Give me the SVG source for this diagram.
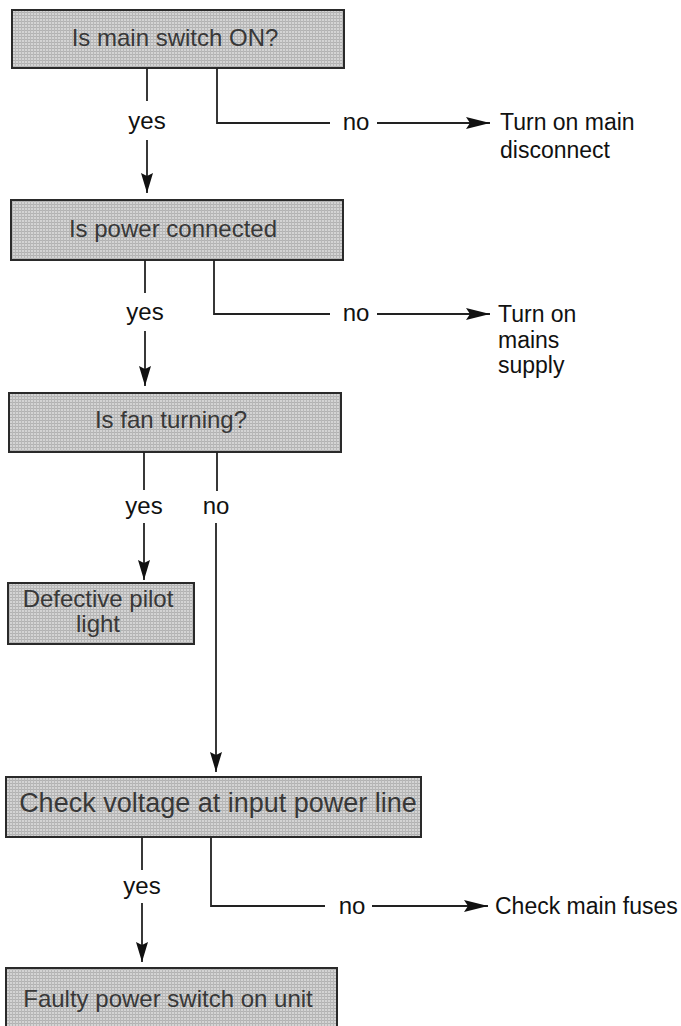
<svg xmlns="http://www.w3.org/2000/svg" width="681" height="1026" viewBox="0 0 681 1026">
<defs>
<pattern id="screen" width="3" height="3" patternUnits="userSpaceOnUse">
<rect width="3" height="3" fill="#d4d4d4"/>
<rect width="3" height="1" fill="#b2b2b2"/>
<rect width="1" height="3" fill="#b8b8b8"/>
</pattern>
<marker id="ah" viewBox="0 0 20 12" refX="20" refY="6" markerWidth="20" markerHeight="12" markerUnits="userSpaceOnUse" orient="auto">
<path d="M0,0 L20,6 L0,12 L3,6 z" fill="#111"/>
</marker>
<marker id="ahh" viewBox="0 0 24 12" refX="24" refY="6" markerWidth="24" markerHeight="12" markerUnits="userSpaceOnUse" orient="auto">
<path d="M0,0 L24,6 L0,12 L4,6 z" fill="#111"/>
</marker>
</defs>
<style>
.box{fill:url(#screen);stroke:#2a2a2a;stroke-width:2}
.bt{font-family:"Liberation Sans",Arial,sans-serif;font-size:24px;fill:#383838;text-anchor:middle}
.lb{font-family:"Liberation Sans",Arial,sans-serif;font-size:24px;fill:#111}
.rt{font-family:"Liberation Sans",Arial,sans-serif;font-size:23px;fill:#111}
.ln{fill:none;stroke:#222;stroke-width:1.8}
</style>

<g id="n1">
<rect class="box" x="12" y="10" width="332" height="58"/>
<text class="bt" x="175" y="46">Is main switch ON?</text>
</g>
<g id="n1no">
<text class="rt" x="500" y="130">Turn on main</text>
<text class="rt" x="500" y="158">disconnect</text>
</g>
<g id="n2">
<rect class="box" x="11" y="200" width="332" height="60"/>
<text class="bt" x="173" y="237">Is power connected</text>
</g>
<g id="n2no">
<text class="rt" x="498" y="322">Turn on</text>
<text class="rt" x="498" y="348">mains</text>
<text class="rt" x="498" y="373">supply</text>
</g>
<g id="n3">
<rect class="box" x="9" y="393" width="332" height="59"/>
<text class="bt" x="171" y="428">Is fan turning?</text>
</g>
<g id="n4">
<rect class="box" x="8" y="583" width="186" height="61"/>
<text class="bt" x="98" y="607">Defective pilot</text>
<text class="bt" x="98" y="632">light</text>
</g>
<g id="n5">
<rect class="box" x="6" y="777" width="415" height="60"/>
<text class="bt" x="218" y="812" style="font-size:27px">Check voltage at input power line</text>
</g>
<g id="n5no">
<text class="rt" x="495" y="914">Check main fuses</text>
</g>
<g id="n6">
<rect class="box" x="6" y="968" width="331" height="62"/>
<text class="bt" x="168" y="1007">Faulty power switch on unit</text>
</g>

<g id="connectors">
<path class="ln" d="M147,68 V101"/>
<text class="lb" x="147" y="129" text-anchor="middle">yes</text>
<path class="ln" d="M147,140 V193" marker-end="url(#ah)"/>
<path class="ln" d="M217,68 V123 H330"/>
<text class="lb" x="356" y="130" text-anchor="middle">no</text>
<path class="ln" d="M377,123 H490" marker-end="url(#ahh)"/>

<path class="ln" d="M145,260 V293"/>
<text class="lb" x="145" y="320" text-anchor="middle">yes</text>
<path class="ln" d="M145,331 V386" marker-end="url(#ah)"/>
<path class="ln" d="M214,260 V314 H330"/>
<text class="lb" x="356" y="321" text-anchor="middle">no</text>
<path class="ln" d="M377,314 H490" marker-end="url(#ahh)"/>

<path class="ln" d="M144,452 V490"/>
<text class="lb" x="144" y="514" text-anchor="middle">yes</text>
<path class="ln" d="M144,523 V580" marker-end="url(#ah)"/>
<path class="ln" d="M217,452 V491"/>
<text class="lb" x="216" y="514" text-anchor="middle">no</text>
<path class="ln" d="M216,523 V772" marker-end="url(#ah)"/>

<path class="ln" d="M142,837 V870"/>
<text class="lb" x="142" y="894" text-anchor="middle">yes</text>
<path class="ln" d="M142,903 V962" marker-end="url(#ah)"/>
<path class="ln" d="M211,837 V906 H325"/>
<text class="lb" x="352" y="914" text-anchor="middle">no</text>
<path class="ln" d="M372,906 H488" marker-end="url(#ahh)"/>
</g>
</svg>
